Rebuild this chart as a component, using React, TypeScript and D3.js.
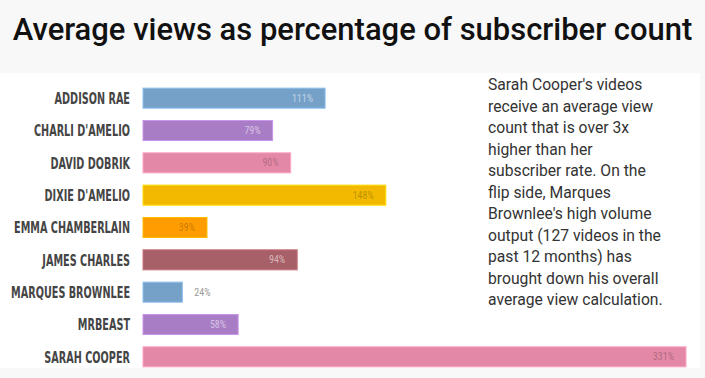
import React, { useEffect, useRef } from "react";
import * as d3 from "d3";

const names = [
  "ADDISON RAE",
  "CHARLI D'AMELIO",
  "DAVID DOBRIK",
  "DIXIE D'AMELIO",
  "EMMA CHAMBERLAIN",
  "JAMES CHARLES",
  "MARQUES BROWNLEE",
  "MRBEAST",
  "SARAH COOPER",
];
const values = [111, 79, 90, 148, 39, 94, 24, 58, 331];
const colors = [
  "#75a1c8",
  "#a87dc5",
  "#e388a6",
  "#f2b900",
  "#ff9d00",
  "#a86068",
  "#75a1c8",
  "#a87dc5",
  "#e388a6",
];
const labelColors = [
  "rgba(255,255,255,0.55)",
  "rgba(255,255,255,0.55)",
  "rgba(0,0,0,0.25)",
  "rgba(0,0,0,0.25)",
  "rgba(0,0,0,0.25)",
  "rgba(255,255,255,0.55)",
  "#9a9a9a",
  "rgba(255,255,255,0.55)",
  "rgba(0,0,0,0.25)",
];
const title = "Average views as percentage of subscriber count";
const noteLines = [
  "Sarah Cooper's videos",
  "receive an average view",
  "count that is over 3x",
  "higher than her",
  "subscriber rate. On the",
  "flip side, Marques",
  "Brownlee's high volume",
  "output (127 videos in the",
  "past 12 months) has",
  "brought down his overall",
  "average view calculation.",
];

const W = 705;
const H = 378;

export default function App() {
  const ref = useRef<SVGSVGElement | null>(null);

  useEffect(() => {
    document.body.style.margin = "0";
    const svg = d3.select(ref.current);
    svg.selectAll("*").remove();

    svg.append("rect").attr("width", W).attr("height", H).attr("fill", "#f8f8f8");
    svg.append("rect").attr("x", 0).attr("y", 73).attr("width", 700).attr("height", 295).attr("fill", "#ffffff");

    const t = svg
      .append("text")
      .attr("x", W / 2)
      .attr("y", 40)
      .attr("text-anchor", "middle")
      .attr("font-family", "Roboto, 'Open Sans', sans-serif")
      .attr("font-weight", 500)
      .attr("font-size", 29)
      .attr("fill", "#111")
      .text(title);
    const tn = t.node() as SVGTextElement;
    const len = tn.getComputedTextLength();
    if (len > 0) t.attr("font-size", (29 * 680) / len);

    const x = d3.scaleLinear().domain([0, 331]).range([143, 686]);
    const y = d3.scaleBand<string>().domain(names).range([82, 373]).paddingInner(0.38).paddingOuter(0.19);

    const g = svg.append("g");
    const labelFont = "'DejaVu Sans', sans-serif";
    const nameGroups: d3.Selection<SVGGElement, unknown, null, undefined>[] = [];
    let refWidth = 0;
    names.forEach((n, i) => {
      const yy = y(n) as number;
      const bh = y.bandwidth();
      g.append("rect")
        .attr("x", x(0))
        .attr("y", yy)
        .attr("width", x(values[i]) - x(0))
        .attr("height", bh)
        .attr("fill", colors[i])
        .attr("stroke", d3.color(colors[i])!.brighter(0.5).toString())
        .attr("stroke-width", 1);
      const lbl = g
        .append("text")
        .attr("y", yy + bh / 2)
        .attr("dy", "0.35em")
        .attr("font-family", "'Roboto Condensed', 'Liberation Sans Narrow', Roboto, sans-serif")
        .attr("font-size", 10)
        .attr("fill", labelColors[i])
        .text(values[i] + "%");
      if (x(values[i]) - x(0) > 50) {
        lbl.attr("x", x(values[i]) - 12).attr("text-anchor", "end");
      } else if (x(values[i]) - x(0) > 40) {
        lbl.attr("x", (x(0) + x(values[i])) / 2).attr("text-anchor", "middle");
      } else {
        lbl.attr("x", x(values[i]) + 12).attr("text-anchor", "start");
      }
      const ng = g.append("g").attr("data-y", yy + bh / 2);
      const nt = ng
        .append("text")
        .attr("x", 0)
        .attr("y", 0)
        .attr("dy", "0.36em")
        .attr("text-anchor", "end")
        .attr("font-family", labelFont)
        .attr("font-weight", 700)
        .attr("font-size", 16)
        .attr("fill", "#454545")
        .text(n);
      if (n === "EMMA CHAMBERLAIN") refWidth = (nt.node() as SVGTextElement).getComputedTextLength();
      nameGroups.push(ng);
    });
    const k = refWidth > 0 ? 116 / refWidth : 0.6;
    nameGroups.forEach((ng) => {
      ng.attr("transform", `translate(130,${ng.attr("data-y")}) scale(${k},1)`);
    });

    const note = svg
      .append("text")
      .attr("font-family", "Roboto, sans-serif")
      .attr("font-size", 15.7)
      .attr("fill", "#333");
    noteLines.forEach((l, i) => {
      note.append("tspan").attr("x", 488).attr("y", 90 + i * 21.5).text(l);
    });
  }, []);

  return (
    <svg
      ref={ref}
      width={W}
      height={H}
      style={{ position: "absolute", left: 0, top: 0, display: "block" }}
    />
  );
}
